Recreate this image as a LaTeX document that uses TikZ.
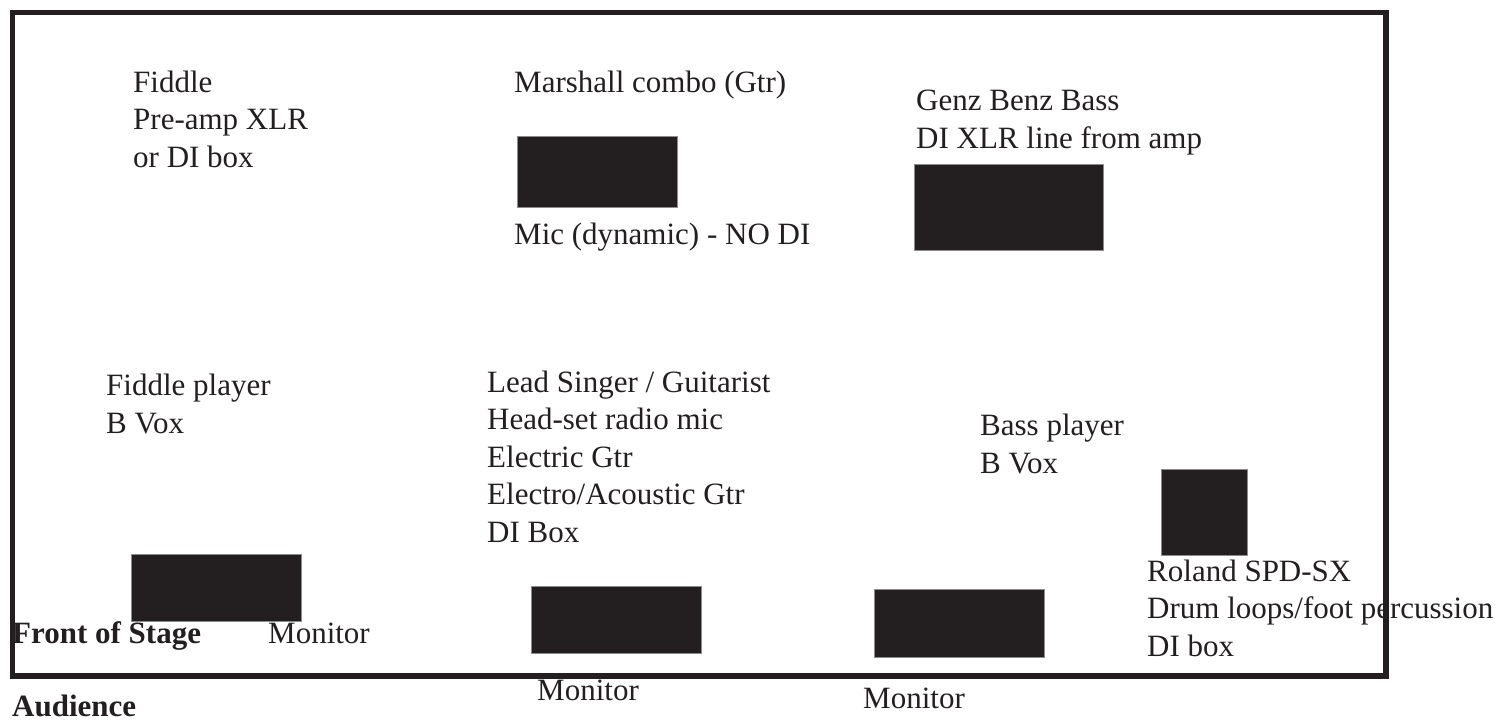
\documentclass[tikz,border=0pt]{standalone}
\usepackage{fontspec}
\setmainfont{Liberation Serif}
\usetikzlibrary{positioning}
\definecolor{ink}{HTML}{231F20}
\definecolor{edge}{HTML}{8C8C8C}

\begin{document}
\begin{tikzpicture}[x=1pt, y=-1pt,
  lbl/.style={anchor=base west, align=left, inner sep=0pt, text=ink,
              font=\fontsize{31}{37.5}\selectfont},
  hd/.style={lbl, font=\fontsize{31}{37.5}\selectfont\bfseries},
  blk/.style 2 args={anchor=north west, inner sep=0pt, fill=ink,
              draw=edge, line width=0.8pt,
              minimum width=#1, minimum height=#2}]
  \useasboundingbox (0,0) rectangle (1507,721);

  % stage outline
  \node[draw=ink, line width=5.5pt, anchor=north west, inner sep=0pt,
        minimum width=1373.5pt, minimum height=663.5pt]
        (stage) at (9.75,9.75) {};

  % amps and monitors
  \node[blk={170pt}{67pt}] (fidmon)  at (131,554) {};
  \node[blk={160pt}{71pt}] (gtramp)  at (517,136) {};
  \node[blk={189pt}{86pt}] (bassamp) at (914,164) {};
  \node[blk={170pt}{67pt}] (leadmon) at (531,586) {};
  \node[blk={170pt}{68pt}] (bassmon) at (874,589) {};
  \node[blk={86pt}{86pt}]  (spd)     at (1161,469) {};

  % labels (base = last line)
  \node[lbl] (fidin)   at (133,167) {Fiddle\\Pre-amp XLR\\or DI box};
  \node[lbl] (gtrin)   at (514,92)  {Marshall combo (Gtr)};
  \node[lbl] (gtrmic)  at (514,244) {Mic (dynamic) - NO DI};
  \node[lbl] (bassin)  at (916,148) {Genz Benz Bass\\DI XLR line from amp};
  \node[lbl] (fidpl)   at (106,433) {Fiddle player\\B Vox};
  \node[lbl] (leadpl)  at (487,542) {Lead Singer / Guitarist\\Head-set radio mic\\
                                     Electric Gtr\\Electro/Acoustic Gtr\\DI Box};
  \node[lbl] (basspl)  at (980,473) {Bass player\\B Vox};
  \node[lbl] (spdin)   at (1147,656) {Roland SPD-SX\\Drum loops/foot percussion\\DI box};
  \node[lbl] (fidmonl) at (268,643) {Monitor};
  \node[lbl] (leadmonl) at (537,700) {Monitor};
  \node[lbl] (bassmonl) at (863,708) {Monitor};
  \node[hd]  (front)   at (12,643)  {Front of Stage};
  \node[hd]  (aud)     at (12,716)  {Audience};
\end{tikzpicture}
\end{document}
